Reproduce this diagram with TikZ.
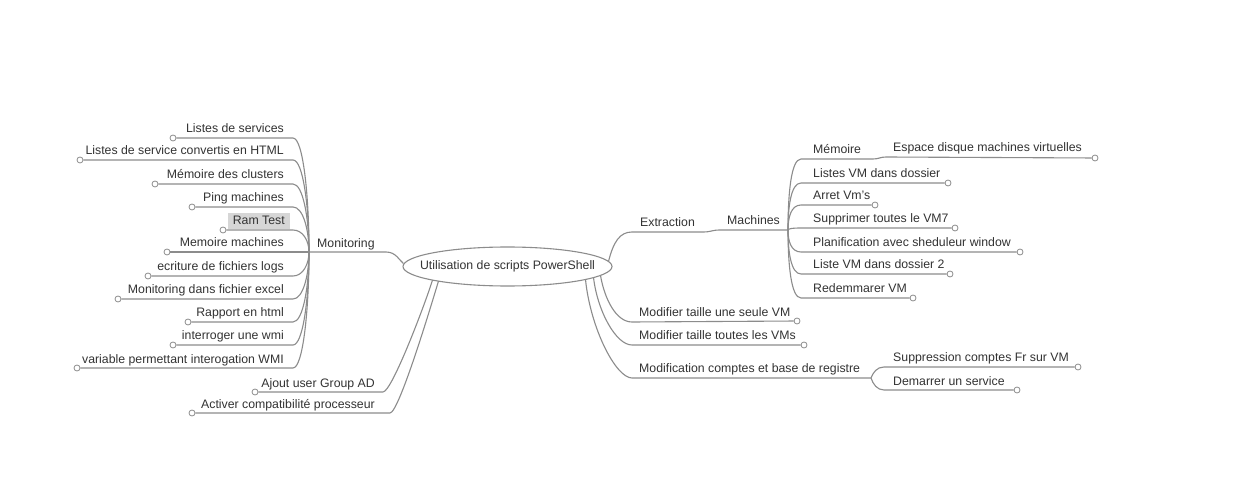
\documentclass[tikz,border=0pt]{standalone}
\usepackage{fontspec}
\setmainfont{Liberation Sans}
\usetikzlibrary{shapes.geometric,calc}
\definecolor{linegray}{HTML}{8C8C8C}
\definecolor{txtgray}{HTML}{333333}
\definecolor{boxgray}{HTML}{D6D6D6}
\begin{document}
\begin{tikzpicture}[x=1pt,y=-1pt,
  conn/.style={draw=linegray,line width=1.1pt},
  leafdot/.style={circle,draw=linegray,fill=white,inner sep=0pt,minimum size=6pt,line width=0.8pt},
  lbl/.style={inner sep=0pt,text=txtgray,font=\fontsize{12.3}{14}\selectfont},
  lblL/.style={lbl,anchor=base east},
  lblR/.style={lbl,anchor=base west},
  rootnode/.style={ellipse,draw=linegray,line width=1.1pt,fill=white,minimum width=209pt,minimum height=39pt,inner sep=0pt},
]
\useasboundingbox (0,0) rectangle (1239,502);
\fill[white] (0,0) rectangle (1239,502);

% root
\node[rootnode,label={[lbl]center:Utilisation de scripts PowerShell}] (root) at (507.5,266.5) {};

% ---------- Monitoring branch ----------
\coordinate (mon) at (309,252);
\node[lblR] (mont) at (317,248) {Monitoring};
\coordinate (mone) at (386,252);
\draw[conn] (mon) -- (mone) .. controls ($(mone)+(10,0)$) and ($(root.west)+(-3,-6)$) .. ($(root.west)+(1,-3)$);

\foreach \i/\y/\cx/\t in {1/138/173/Listes de services,
  2/160/80/Listes de service convertis en HTML,
  3/184/155/Mémoire des clusters,
  4/207/192/Ping machines,
  6/252/167/Memoire machines,
  7/276/148/ecriture de fichiers logs,
  8/299/118/Monitoring dans fichier excel,
  9/322/188/Rapport en html,
  10/345/173/interroger une wmi,
  11/368/77/variable permettant interogation WMI} {
  \node[lblL] (l\i) at (284,\y-5) {\t};
  \node[leafdot] (d\i) at (\cx,\y) {};
  \coordinate (e\i) at (293,\y);
  \draw[conn] (d\i) -- (e\i) .. controls ($(e\i)+(10,0)$) and ($(mon)!0.5!(mon|-e\i)$) .. (mon);
}
% Ram Test (highlighted)
\node[lbl,anchor=base east,fill=boxgray,inner xsep=5pt,inner ysep=4pt] (l5) at (290,225) {Ram Test};
\node[leafdot] (d5) at (223,230) {};
\coordinate (e5) at (293,230);
\draw[conn] (d5) -- (e5) .. controls ($(e5)+(10,0)$) and ($(mon)!0.5!(mon|-e5)$) .. (mon);

% ---------- bottom-left leaves ----------
\coordinate (rba) at ($(root.center)+(-75,13.5)$);
\coordinate (rbb) at ($(root.center)+(-69,14.5)$);
\node[lblL] (la) at (375,387) {Ajout user Group AD};
\node[leafdot] (da) at (255,392) {};
\coordinate (ea) at (383,392);
\draw[conn] (da) -- (ea) .. controls ($(ea)+(9,0)$) and ($(rba)+(-6,20)$) .. (rba);
\node[lblL] (lb) at (375,408) {Activer compatibilité processeur};
\node[leafdot] (db) at (192,413) {};
\coordinate (eb) at (390,413);
\draw[conn] (db) -- (eb) .. controls ($(eb)+(9,0)$) and ($(rbb)+(-6,20)$) .. (rbb);

% ---------- Extraction / Machines ----------
\coordinate (rext) at ($(root.center)+(101,-5)$);
\node[lblR] (ext) at (640,227) {Extraction};
\coordinate (exts) at (632,232);
\coordinate (exte) at (703,232);
\coordinate (mach) at (788,230);
\coordinate (machs) at (720,230);
\node[lblR] (macht) at (727,225) {Machines};
\draw[conn] (rext) .. controls ($(rext)+(5,-20)$) and ($(exts)+(-12,0)$) .. (exts) -- (exte)
  .. controls ($(exte)+(8,0)$) and ($(machs)+(-8,0)$) .. (machs) -- (mach);

% Mémoire -> Espace
\node[lblR] (mem) at (813,154) {Mémoire};
\coordinate (ms1) at (801,159);
\coordinate (memh) at (873,159);
\coordinate (esps) at (886,157);
\node[lblR] (esp) at (893,152) {Espace disque machines virtuelles};
\node[leafdot] (espd) at (1095,158) {};
\draw[conn] (mach) .. controls ($(mach)!0.5!(mach|-ms1)$) and ($(ms1)+(-10,0)$) .. (ms1) -- (memh)
  .. controls ($(memh)+(6,0)$) and ($(esps)+(-6,0)$) .. (esps) -- (espd);

\foreach \i/\y/\cx/\t in {2/183/948/Listes VM dans dossier,
  3/205/875/Arret Vm's,
  4/228/955/Supprimer toutes le VM7,
  5/252/1020/Planification avec sheduleur window,
  6/274/950/Liste VM dans dossier 2,
  7/298/913/Redemmarer VM} {
  \node[lblR] (m\i) at (813,\y-5) {\t};
  \node[leafdot] (md\i) at (\cx,\y) {};
  \coordinate (ms\i) at (801,\y);
  \draw[conn] (mach) .. controls ($(mach)!0.5!(mach|-ms\i)$) and ($(ms\i)+(-10,0)$) .. (ms\i) -- (md\i);
}

% ---------- bottom-right branches ----------
\coordinate (rbA) at ($(root.center)+(78,13)$);
\coordinate (rbB) at ($(root.center)+(86,11)$);
\coordinate (rbC) at ($(root.center)+(93,9)$);

\node[lblR] (u1) at (639,317) {Modifier taille une seule VM};
\coordinate (us1) at (632,322);
\node[leafdot] (ud1) at (797,321) {};
\draw[conn] (rbC) .. controls ($(rbC)!0.5!(rbC|-us1)+(4,0)$) and ($(us1)+(-16,0)$) .. (us1) -- (ud1);

\node[lblR] (u2) at (639,340) {Modifier taille toutes les VMs};
\coordinate (us2) at (632,345);
\node[leafdot] (ud2) at (804,345) {};
\draw[conn] (rbB) .. controls ($(rbB)!0.5!(rbB|-us2)+(4,0)$) and ($(us2)+(-16,0)$) .. (us2) -- (ud2);

\node[lblR] (u3) at (639,373) {Modification comptes et base de registre};
\coordinate (us3) at (632,378);
\coordinate (modh) at (871,378);
\draw[conn] (rbA) .. controls ($(rbA)!0.5!(rbA|-us3)+(5,0)$) and ($(us3)+(-16,0)$) .. (us3) -- (modh);

\foreach \i/\y/\cx/\t in {1/367/1078/Suppression comptes Fr sur VM,
  2/390/1017/Demarrer un service} {
  \node[lblR] (r\i) at (893,\y-5) {\t};
  \node[leafdot] (rd\i) at (\cx,\y) {};
  \coordinate (rs\i) at (884,\y);
  \draw[conn] (modh) .. controls ($(modh)!0.5!(modh|-rs\i)+(2,0)$) and ($(rs\i)+(-7,0)$) .. (rs\i) -- (rd\i);
}
\end{tikzpicture}
\end{document}
